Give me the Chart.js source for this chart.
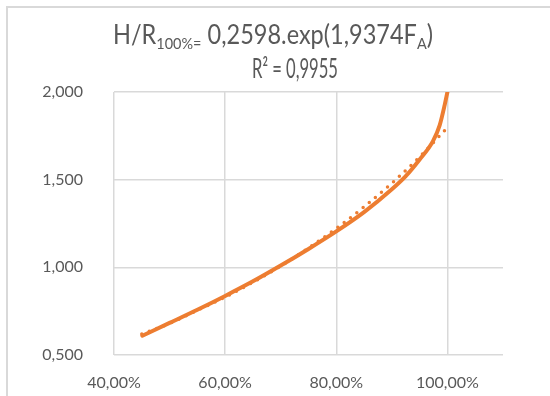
<!DOCTYPE html>
<html>
<head>
<meta charset="utf-8">
<script src="https://cdn.jsdelivr.net/npm/chart.js@4.4.1/dist/chart.umd.min.js"></script>
<style>
html,body{margin:0;padding:0;background:#fff;}
#wrap{width:550px;height:396px;position:relative;}
</style>
</head>
<body>
<div id="wrap"><canvas id="c" width="550" height="396"></canvas></div>
<script>
// Measured curve H/R100% versus F_A
const faMeasured = [0.451, 0.50, 0.55, 0.60, 0.65, 0.70, 0.75, 0.80, 0.85, 0.90, 0.925, 0.95, 0.974, 0.986, 0.995, 1.0];
const hrMeasured = [0.610, 0.683, 0.758, 0.837, 0.92, 1.01, 1.105, 1.205, 1.315, 1.445, 1.52, 1.615, 1.72, 1.81, 1.925, 2.0];
// Exponential trendline (dotted)
const faTrend = [0.45, 0.50, 0.55, 0.60, 0.65, 0.70, 0.75, 0.80, 0.85, 0.90, 0.95, 1.00];
const hrTrend = [0.62, 0.68, 0.755, 0.83, 0.915, 1.007, 1.11, 1.222, 1.345, 1.48, 1.63, 1.797];
// Axis ticks
const xTicks = [0.4, 0.6, 0.8, 1.0];
const yTicks = [0.5, 1.0, 1.5, 2.0];
const titleLine1 = ["H/R", "100%=", " 0,2598.exp(1,9374F", "A", ")"];
const titleLine2 = "R² = 0,9955";

const ORANGE = '#ED7D31';
const TEXT = '#595959';
const GRID = '#d9d9d9';
const FONT = "Lato, 'Open Sans', sans-serif";

function pts(xs, ys){ return xs.map((x,i)=>({x:x, y:ys[i]})); }

const framePlugin = {
  id: 'frame',
  beforeDraw(chart){
    const ctx = chart.ctx;
    ctx.save();
    ctx.fillStyle = '#fff';
    ctx.fillRect(0,0,chart.width,chart.height);
    ctx.strokeStyle = GRID;
    ctx.lineWidth = 2;
    ctx.beginPath();
    ctx.moveTo(7, 396); ctx.lineTo(7, 7); ctx.lineTo(550, 7);
    ctx.stroke();
    ctx.restore();
  },
  afterDraw(chart){
    const ctx = chart.ctx;
    ctx.save();
    ctx.fillStyle = TEXT;
    ctx.textBaseline = 'alphabetic';
    const big = "26px " + FONT, small = "16px " + FONT;
    const parts = titleLine1.map((t,i)=>({t:t, sub:(i===1||i===3)}));
    let w = 0;
    parts.forEach(p=>{ ctx.font = p.sub?small:big; p.w = ctx.measureText(p.t).width; w += p.w; });
    const target1 = 320, left1 = 113, base1 = 44;
    ctx.save();
    ctx.translate(left1, base1);
    ctx.scale(target1 / w, 1);
    let x = 0;
    parts.forEach(p=>{ ctx.font = p.sub?small:big; ctx.fillText(p.t, x, p.sub?5:0); x += p.w; });
    ctx.restore();
    ctx.font = big;
    const w2 = ctx.measureText(titleLine2).width;
    const target2 = 86, left2 = 252, base2 = 78;
    ctx.save();
    ctx.translate(left2, base2);
    ctx.scale(target2 / w2, 1);
    ctx.fillText(titleLine2, 0, 0);
    ctx.restore();
    ctx.restore();
  }
};

function fmtComma(v, dec){ return v.toFixed(dec).replace('.', ','); }

new Chart(document.getElementById('c'), {
  type: 'scatter',
  data: {
    datasets: [
      {
        label: 'H/R100%',
        data: pts(faMeasured, hrMeasured),
        showLine: true,
        borderColor: ORANGE,
        backgroundColor: ORANGE,
        borderWidth: 4,
        pointRadius: 0,
        cubicInterpolationMode: 'monotone',
        borderCapStyle: 'round',
        order: 2
      },
      {
        label: 'Expon.',
        data: pts(faTrend, hrTrend),
        showLine: true,
        borderColor: ORANGE,
        backgroundColor: ORANGE,
        borderWidth: 3.5,
        borderDash: [0, 8],
        borderCapStyle: 'round',
        pointRadius: 0,
        cubicInterpolationMode: 'monotone',
        order: 1
      }
    ]
  },
  options: {
    responsive: false,
    animation: false,
    devicePixelRatio: 1,
    layout: { padding: { left: 0, top: 92, right: 47, bottom: 0 } },
    plugins: { legend: { display: false }, tooltip: { enabled: false }, title: { display: false } },
    scales: {
      x: {
        type: 'linear',
        min: 0.4, max: 1.1,
        afterBuildTicks(scale){ scale.ticks = xTicks.map(v=>({value:v})); },
        afterFit(scale){ scale.height = 41; },
        grid: { color: GRID, lineWidth: 1.5, drawTicks: false },
        border: { display: false },
        ticks: {
          color: TEXT, padding: 18,
          font: { family: FONT, size: 16 },
          maxRotation: 0,
          callback: (v)=> fmtComma(v*100, 2) + '%'
        }
      },
      y: {
        type: 'linear',
        min: 0.5, max: 2.0,
        afterBuildTicks(scale){ scale.ticks = yTicks.map(v=>({value:v})); },
        afterFit(scale){ scale.width = 114; },
        grid: { color: GRID, lineWidth: 1.5, drawTicks: false },
        border: { display: false },
        ticks: {
          color: TEXT, padding: 31,
          font: { family: FONT, size: 16 },
          callback: (v)=> fmtComma(v, 3)
        }
      }
    }
  },
  plugins: [framePlugin]
});
</script>
</body>
</html>
